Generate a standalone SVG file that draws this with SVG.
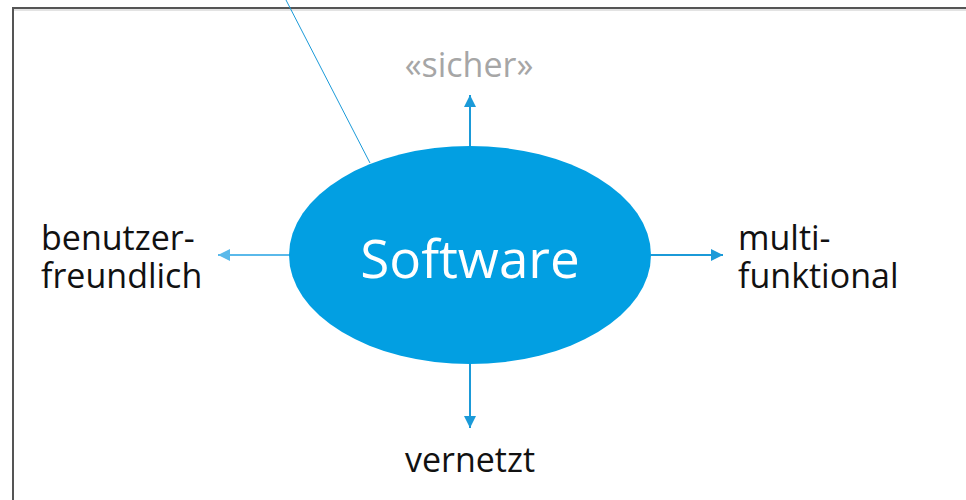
<svg xmlns="http://www.w3.org/2000/svg" width="966" height="500" viewBox="0 0 966 500">
  <defs>
    <marker id="head" viewBox="0 0 10 10" refX="10" refY="5" markerWidth="12" markerHeight="12" markerUnits="userSpaceOnUse" orient="auto">
      <path d="M0,0 L10,5 L0,10 z" fill="#1b9ad8"/>
    </marker>
    <marker id="headLight" viewBox="0 0 10 10" refX="10" refY="5" markerWidth="12" markerHeight="12" markerUnits="userSpaceOnUse" orient="auto">
      <path d="M0,0 L10,5 L0,10 z" fill="#5ab9ea"/>
    </marker>
  </defs>
  <style>
    .label { font-family: "Open Sans", "Noto Sans", sans-serif; font-size: 34px; fill: #111; }
    .muted { fill: #a6a6a6; }
    .arrow { stroke: #1b9ad8; stroke-width: 2; fill: none; marker-end: url(#head); }
    .arrow.light { stroke: #5ab9ea; marker-end: url(#headLight); }
  </style>

  <rect width="966" height="500" fill="#ffffff"/>

  <!-- frame -->
  <g id="frame" fill="none">
    <path d="M13,500 V8 H966" stroke="#555555" stroke-width="2"/>
    <path d="M14,10 H966" stroke="#c8c8c8" stroke-width="1"/>
  </g>

  <!-- connectors -->
  <g id="connectors">
    <line x1="286" y1="0" x2="370" y2="163" stroke="#1b9ad8" stroke-width="1"/>
    <line class="arrow" x1="470" y1="146" x2="470" y2="95"/>
    <line class="arrow" x1="470" y1="364" x2="470" y2="428"/>
    <line class="arrow light" x1="290" y1="255" x2="218" y2="255"/>
    <line class="arrow" x1="651" y1="255" x2="723" y2="255"/>
  </g>

  <g id="software">
    <ellipse cx="470" cy="255" rx="181" ry="109" fill="#029fe2"/>
    <text x="470" y="278" text-anchor="middle" font-family="Open Sans, Noto Sans, sans-serif" font-size="53" fill="#ffffff">Software</text>
  </g>

  <g id="sicher">
    <text class="label muted" x="469" y="77" text-anchor="middle" font-size="35">«sicher»</text>
  </g>

  <g id="vernetzt">
    <text class="label" x="470" y="472" text-anchor="middle">vernetzt</text>
  </g>

  <!-- two-line labels: one text element, lines as tspans -->
  <g id="benutzerfreundlich">
    <text class="label"><tspan x="41" y="250">benutzer-</tspan><tspan x="41" y="288">freundlich</tspan></text>
  </g>

  <g id="multifunktional">
    <text class="label"><tspan x="738" y="250">multi-</tspan><tspan x="738" y="288">funktional</tspan></text>
  </g>
</svg>
